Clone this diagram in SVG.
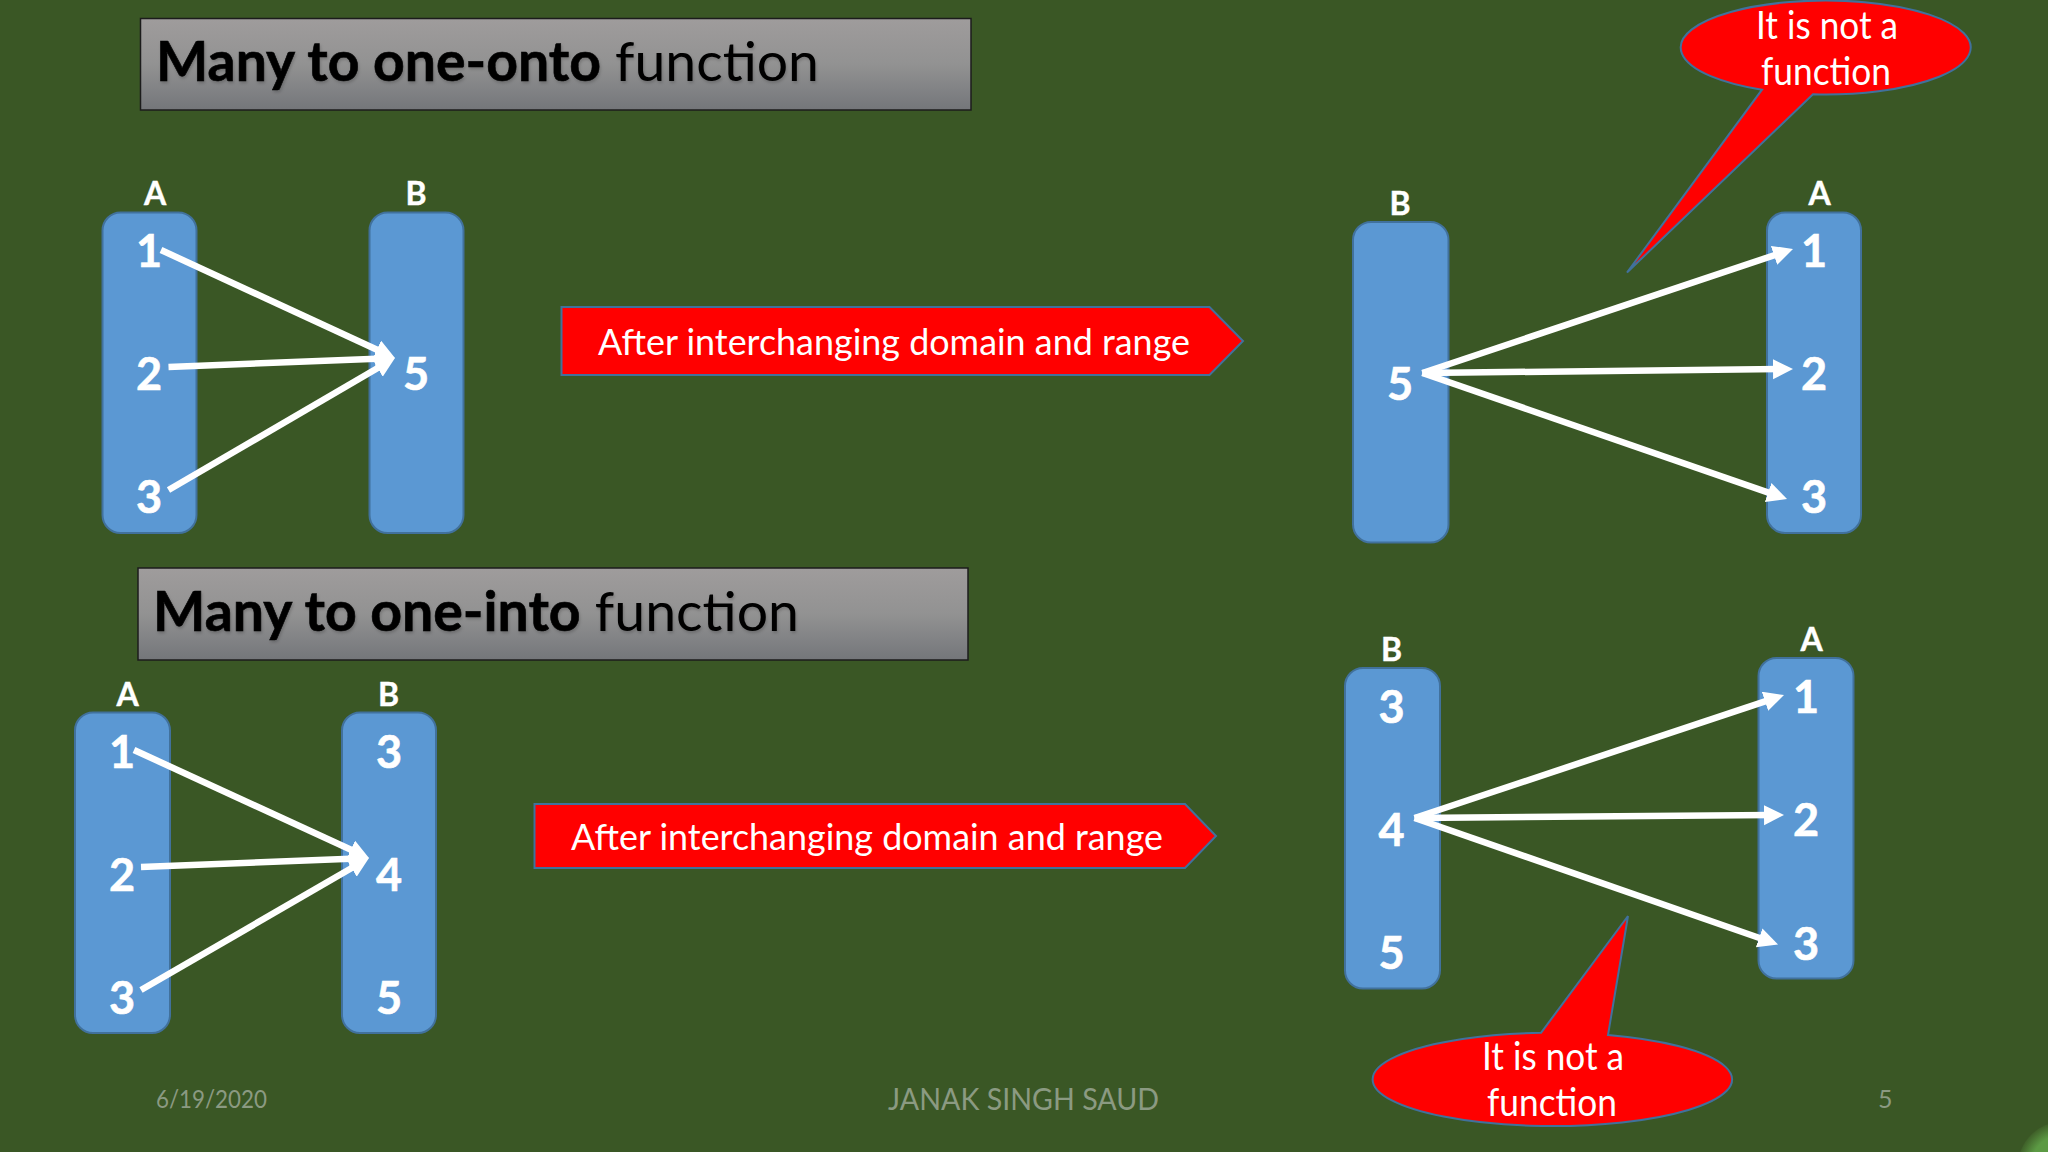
<svg xmlns="http://www.w3.org/2000/svg" width="2048" height="1152" viewBox="0 0 2048 1152">
<style>
text{font-family:"Lato","Liberation Sans",sans-serif}
.t{font-size:55px;fill:#000;filter:url(#sh)}
.t tspan{font-weight:700;stroke:#000;stroke-width:.6}
.tb{fill:url(#g);stroke:#1c1c1c;stroke-width:1.5}
.set{fill:#5b98d3;stroke:#41719c;stroke-width:2}
.lab{font-size:32px;font-weight:700;fill:#fff;text-anchor:middle;stroke:#fff;stroke-width:.4}
.d{font-size:45px;font-weight:700;fill:#fff;text-anchor:middle;stroke:#fff;stroke-width:.6}
.red{fill:#f00;stroke:#41719c;stroke-width:2}
.w{font-size:36px;fill:#fff}
.c{font-size:38px;fill:#fff;text-anchor:middle}
.f{fill:#8b9a82;font-size:25px}
#connectors line{stroke:#fff;stroke-width:6.500;marker-end:url(#ah)}
</style>
<defs>
<linearGradient id="g" x1="0" y1="0" x2="0" y2="1"><stop offset="0" stop-color="#9f9c9c"/><stop offset="0.5" stop-color="#929292"/><stop offset="1" stop-color="#74767a"/></linearGradient>
<marker id="ah" markerUnits="userSpaceOnUse" markerWidth="22" markerHeight="22" refX="8" refY="10" orient="auto"><path d="M0 0L20 10L0 20z" fill="#fff"/></marker>
<filter id="sh" x="-5%" y="-20%" width="110%" height="150%"><feDropShadow dx="1" dy="2" stdDeviation="1.500" flood-color="#000" flood-opacity=".2"/></filter>
<radialGradient id="cg"><stop offset="0.7" stop-color="#5c9a44"/><stop offset="1" stop-color="#3f6029"/></radialGradient>
</defs>
<rect width="2048" height="1152" fill="#3a5725"/>
<circle cx="2062" cy="1166" r="44" fill="url(#cg)"/>
<g id="title-onto"><rect class="tb" x="140.500" y="18.500" width="830.500" height="91.500"/><text class="t" x="156" y="81" textLength="663" lengthAdjust="spacingAndGlyphs"><tspan>Many to one-onto</tspan> function</text></g>
<g id="title-into"><rect class="tb" x="138" y="568" width="830" height="92"/><text class="t" x="153" y="631" textLength="646" lengthAdjust="spacingAndGlyphs"><tspan>Many to one-into</tspan> function</text></g>
<g id="tl-a"><rect class="set" x="102.500" y="212.500" width="94" height="320.500" rx="18"/><text class="lab" x="155" y="205">A</text><text class="d" x="149" y="267">1</text><text class="d" x="149" y="390">2</text><text class="d" x="149" y="513">3</text></g>
<g id="tl-b"><rect class="set" x="369.500" y="212.500" width="94" height="320.500" rx="18"/><text class="lab" x="416" y="205">B</text><text class="d" x="416" y="390">5</text></g>
<g id="tr-b"><rect class="set" x="1353" y="222" width="95.500" height="320.500" rx="18"/><text class="lab" x="1400" y="215">B</text><text class="d" x="1400" y="400">5</text></g>
<g id="tr-a"><rect class="set" x="1767" y="212.500" width="94" height="320.500" rx="18"/><text class="lab" x="1819.500" y="205">A</text><text class="d" x="1814" y="267">1</text><text class="d" x="1814" y="390">2</text><text class="d" x="1814" y="513">3</text></g>
<g id="bl-a"><rect class="set" x="75" y="712.500" width="95" height="320.500" rx="18"/><text class="lab" x="127.500" y="706">A</text><text class="d" x="122" y="768">1</text><text class="d" x="122" y="891">2</text><text class="d" x="122" y="1014">3</text></g>
<g id="bl-b"><rect class="set" x="342" y="712.500" width="94" height="320.500" rx="18"/><text class="lab" x="388.500" y="706">B</text><text class="d" x="389" y="768">3</text><text class="d" x="389" y="891">4</text><text class="d" x="389" y="1014">5</text></g>
<g id="br-b"><rect class="set" x="1345" y="668" width="95" height="320.500" rx="18"/><text class="lab" x="1391.500" y="661">B</text><text class="d" x="1391.500" y="723">3</text><text class="d" x="1391.500" y="846">4</text><text class="d" x="1391.500" y="969">5</text></g>
<g id="br-a"><rect class="set" x="1758.500" y="658" width="95" height="320.500" rx="18"/><text class="lab" x="1811.500" y="651">A</text><text class="d" x="1806" y="713">1</text><text class="d" x="1806" y="836">2</text><text class="d" x="1806" y="959.500">3</text></g>
<g id="connectors">
<line x1="161" y1="250" x2="384.100" y2="353"/><line x1="168.500" y1="367" x2="383" y2="358.500"/><line x1="168.500" y1="490" x2="384.600" y2="364"/>
<line x1="1422.400" y1="373" x2="1781.600" y2="252.800"/><line x1="1422.400" y1="373" x2="1781" y2="369.100"/><line x1="1422.400" y1="373" x2="1775.700" y2="495.100"/>
<line x1="134" y1="750" x2="358.100" y2="853"/><line x1="141" y1="867" x2="357" y2="858.500"/><line x1="141" y1="990" x2="358.600" y2="864"/>
<line x1="1414.600" y1="818" x2="1772.600" y2="698.800"/><line x1="1414.600" y1="818" x2="1772" y2="815.100"/><line x1="1414.600" y1="818" x2="1766.700" y2="940.500"/>
</g>
<g id="banner-top"><path class="red" d="M561.500 307H1209.500L1243 341L1209.500 375H561.500z"/><text class="w" x="598" y="355" textLength="592" lengthAdjust="spacingAndGlyphs">After interchanging domain and range</text></g>
<g id="banner-bottom"><path class="red" d="M534.500 804H1185L1216 836L1185 868H534.500z"/><text class="w" x="571" y="849.500" textLength="592" lengthAdjust="spacingAndGlyphs">After interchanging domain and range</text></g>
<g id="callout-top"><path class="red" d="M1813 94.300L1627 272.500L1762 89.700A145 47 0 1 1 1813 94.300z"/><text class="c" x="1827" y="39" textLength="142" lengthAdjust="spacingAndGlyphs">It is not a</text><text class="c" x="1826" y="85" textLength="130" lengthAdjust="spacingAndGlyphs">function</text></g>
<g id="footer"><text class="f" x="156" y="1108" textLength="111" lengthAdjust="spacingAndGlyphs">6/19/2020</text><text class="f" x="888" y="1110" style="font-size:31px" textLength="271" lengthAdjust="spacingAndGlyphs">JANAK SINGH SAUD</text><text class="f" x="1878" y="1108">5</text></g>
<g id="callout-bottom"><path class="red" d="M1541 1032.800L1628 916L1608 1035A179.750 46.700 0 1 1 1541 1032.800z"/><text class="c" x="1553" y="1070" textLength="142" lengthAdjust="spacingAndGlyphs">It is not a</text><text class="c" x="1552" y="1116" textLength="130" lengthAdjust="spacingAndGlyphs">function</text></g>
</svg>
